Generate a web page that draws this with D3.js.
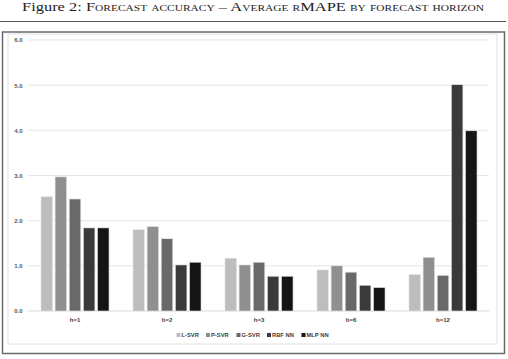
<!DOCTYPE html>
<html>
<head>
<meta charset="utf-8">
<script src="https://cdn.jsdelivr.net/npm/d3@7"></script>
<style>
  body { margin: 0; background: #fff; }
  svg { display: block; }
</style>
</head>
<body>
<div id="vis"></div>
<script>
var width = 508,
    height = 359;

var horizons = ["h=1", "h=2", "h=3", "h=6", "h=12"];
var models = ["L-SVR", "P-SVR", "G-SVR", "RBF NN", "MLP NN"];
var colors = ["#bdbdbd", "#8f8f8f", "#696969", "#3a3a3a", "#151515"];
var yTicks = [0, 1, 2, 3, 4, 5, 6];

// rMAPE per model, one value per horizon
var lsvr = [2.53, 1.80, 1.17, 0.91, 0.81];
var psvr = [2.97, 1.87, 1.02, 1.00, 1.19];
var gsvr = [2.48, 1.60, 1.08, 0.86, 0.79];
var rbfnn = [1.84, 1.02, 0.77, 0.57, 5.01];
var mlpnn = [1.84, 1.08, 0.77, 0.52, 3.99];
var series = [lsvr, psvr, gsvr, rbfnn, mlpnn];

var svg = d3.select("#vis").append("svg")
    .attr("width", width)
    .attr("height", height);

// title, the scan is stretched sideways so the text is too
var title = svg.append("text")
    .attr("x", 22)
    .attr("y", 10.5)
    .attr("textLength", 462)
    .attr("lengthAdjust", "spacingAndGlyphs")
    .style("font-family", "'Liberation Serif', 'DejaVu Serif', serif")
    .style("font-size", "11.5px")
    .attr("fill", "#222");
title.append("tspan").text("Figure 2: ");
title.append("tspan")
    .style("font-variant", "small-caps")
    .text("Forecast accuracy – Average rMAPE by forecast horizon");

svg.append("line")
    .attr("x1", 0).attr("x2", 506)
    .attr("y1", 21.5).attr("y2", 21.5)
    .attr("stroke", "#555")
    .attr("stroke-width", 1);

// chart frame (outer dark, inner light)
svg.append("rect")
    .attr("x", 2.5).attr("y", 32)
    .attr("width", 502).attr("height", 321.5)
    .attr("fill", "#fff")
    .attr("stroke", "#6a6a6a")
    .attr("stroke-width", 1.5);

svg.append("rect")
    .attr("x", 8).attr("y", 34)
    .attr("width", 489).attr("height", 310)
    .attr("fill", "none")
    .attr("stroke", "#e2e2e2")
    .attr("stroke-width", 1);

var x = d3.scaleBand()
    .domain(horizons)
    .range([29, 489])
    .paddingInner(0.26)
    .paddingOuter(0.13);

var x1 = d3.scaleBand()
    .domain(models)
    .range([0, x.bandwidth()])
    .paddingInner(0.18);

var y = d3.scaleLinear()
    .domain([0, 6])
    .range([311, 40]);

// grid
svg.append("g").selectAll("line").data(yTicks).enter()
    .append("line")
    .attr("x1", 28).attr("x2", 489)
    .attr("y1", function(d){return y(d)})
    .attr("y2", function(d){return y(d)})
    .attr("stroke", function(d){return d == 0 ? "#cfcfcf" : "#dedede"})
    .attr("stroke-width", 0.8);

// y axis labels
var yAxis = d3.axisLeft(y)
    .tickValues(yTicks)
    .tickFormat(d3.format(".1f"))
    .tickSize(0)
    .tickPadding(0);

var ya = svg.append("g")
    .attr("transform", "translate(22.5,0)")
    .call(yAxis);
ya.select(".domain").remove();
ya.selectAll("text")
    .attr("fill", "#595959")
    .style("font-family", "'Liberation Sans', Arial, sans-serif")
    .style("font-size", "6px")
    .style("font-weight", "bold");

// bars
var groups = svg.append("g").selectAll("g").data(horizons).enter()
    .append("g")
    .attr("transform", function(d){return "translate(" + x(d) + ",0)"});

groups.selectAll("rect")
    .data(function(h, i){
        return models.map(function(m, j){return {model: m, value: series[j][i], color: colors[j]}});
    })
    .enter()
    .append("rect")
    .attr("x", function(d){return x1(d.model)})
    .attr("width", x1.bandwidth())
    .attr("y", function(d){return y(d.value)})
    .attr("height", function(d){return y(0) - y(d.value)})
    .attr("fill", function(d){return d.color})
    .attr("stroke", "#e8e8e8")
    .attr("stroke-width", 0.6);

// x axis labels
var xAxis = d3.axisBottom(x).tickSize(0).tickPadding(0);
var xa = svg.append("g")
    .attr("transform", "translate(0,318)")
    .call(xAxis);
xa.select(".domain").remove();
xa.selectAll("text")
    .attr("fill", "#404040")
    .style("font-family", "'Liberation Sans', Arial, sans-serif")
    .style("font-size", "6px")
    .style("font-weight", "bold");

// legend
var legendX = [176.5, 206, 236.5, 267, 301.5];
var legend = svg.append("g").selectAll("g").data(models).enter()
    .append("g")
    .attr("transform", function(d, i){return "translate(" + legendX[i] + ",335)"});

legend.append("rect")
    .attr("x", 0).attr("y", -2)
    .attr("width", 4).attr("height", 4)
    .attr("fill", function(d, i){return colors[i]});

legend.append("text")
    .attr("x", 5)
    .attr("y", 2)
    .attr("fill", "#404040")
    .style("font-family", "'Liberation Sans', Arial, sans-serif")
    .style("font-size", "5.8px")
    .style("font-weight", "bold")
    .text(function(d){return d});
</script>
</body>
</html>
